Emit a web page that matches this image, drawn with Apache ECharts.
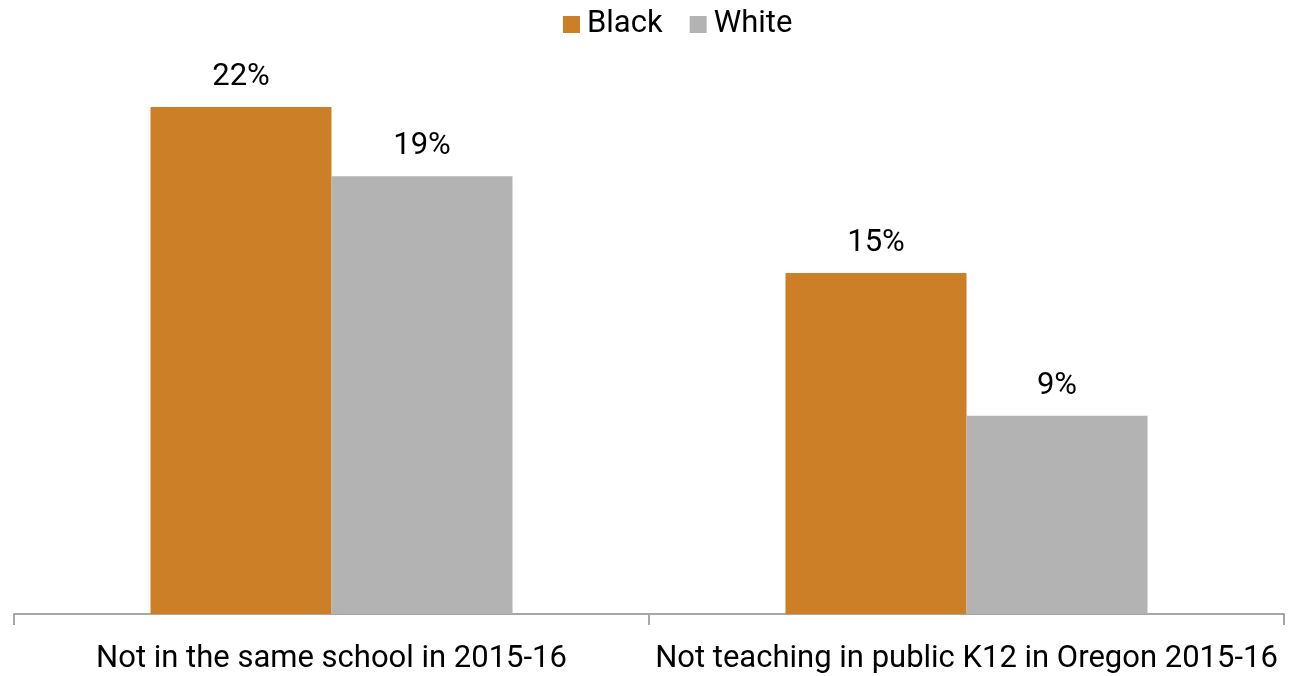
<!DOCTYPE html>
<html><head><meta charset="utf-8">
<script src="https://cdn.jsdelivr.net/npm/echarts@6/dist/echarts.min.js"></script>
<style>html,body{margin:0;padding:0;background:#fff}#c{width:1300px;height:676px}</style>
</head><body><div id="c"></div>
<script>
const categories = ["Not in the same school in 2015-16", "Not teaching in public K12 in Oregon 2015-16"];
const seriesNames = ["Black", "White"];
const blackValues = [22, 14.8];
const whiteValues = [19, 8.6];
const colors = ["#CD7F28", "#B3B3B3"];
const FONT = "Roboto, 'Liberation Sans', sans-serif";

const chart = echarts.init(document.getElementById('c'), null, {renderer: 'canvas'});
const labelOpt = {
  show: true, position: 'top', distance: 14, color: '#000', fontSize: 31, fontFamily: FONT,
  formatter: p => Math.round(p.value) + '%'
};
chart.setOption({
  animation: false,
  legend: {
    top: 9, left: 563, itemWidth: 17, itemHeight: 17, itemGap: 27,
    icon: 'rect', padding: 0,
    textStyle: {fontSize: 31, fontFamily: FONT, color: '#000', padding: [0,0,0,2]},
    data: seriesNames
  },
  grid: {left: 14, right: 16, top: 38, bottom: 62, containLabel: false},
  xAxis: {
    type: 'category', data: categories,
    axisLine: {lineStyle: {color: '#A6A6A6', width: 2}},
    axisTick: {show: true, length: 11, lineStyle: {color: '#A6A6A6', width: 2}},
    axisLabel: {fontSize: 31, fontFamily: FONT, color: '#000', margin: 30, interval: 0, hideOverlap: false}
  },
  yAxis: {type: 'value', min: 0, max: 25, show: false, splitLine: {show: false}},
  series: [
    {name: seriesNames[0], type: 'bar', data: blackValues, barWidth: 181, barGap: '0%',
     itemStyle: {color: colors[0]}, label: labelOpt},
    {name: seriesNames[1], type: 'bar', data: whiteValues, barWidth: 181, barGap: '0%',
     itemStyle: {color: colors[1]}, label: labelOpt}
  ]
});
</script></body></html>
